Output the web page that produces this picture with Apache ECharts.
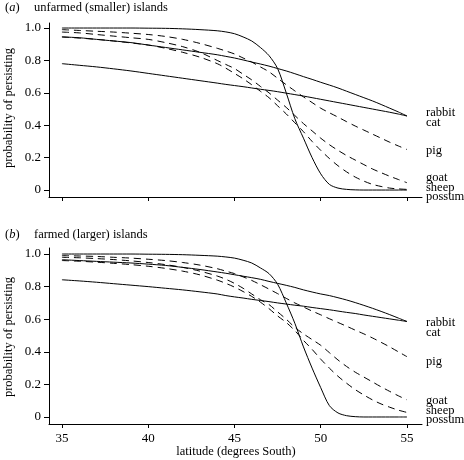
<!DOCTYPE html>
<html><head><meta charset="utf-8">
<script src="https://cdn.jsdelivr.net/npm/echarts@6/dist/echarts.min.js"></script>
<style>html,body{margin:0;padding:0;background:#fff}#c{width:464px;height:460px}</style>
</head><body><div id="c"></div>
<script>
// ---- data ----
const latitudes = [35,36,37,38,39,40,41,42,43,44,44.5,45,45.5,46,46.5,47,47.5,48,48.5,49,49.5,50,50.5,51,51.5,52,52.5,53,53.5,54,54.5,55];
const xTicks = [35,40,45,50,55];
const yTicks = [0,0.2,0.4,0.6,0.8,1.0];
const speciesNames = ['rabbit','cat','pig','goat','sheep','possum'];
const dashedSpecies = ['pig','goat','sheep'];

// (a) unfarmed (smaller) islands
const rabbitA = [.945,.94,.93,.92,.91,.895,.88,.865,.85,.835,.825,.815,.803,.79,.778,.765,.75,.735,.718,.70,.683,.665,.648,.63,.61,.59,.57,.55,.528,.505,.482,.457];
const catA    = [.78,.77,.76,.748,.735,.72,.705,.69,.675,.66,.652,.645,.638,.63,.622,.615,.607,.598,.589,.58,.57,.56,.55,.54,.53,.52,.51,.50,.49,.48,.469,.457];
const pigA    = [.99,.985,.98,.975,.968,.96,.948,.93,.905,.875,.858,.84,.815,.79,.76,.73,.69,.65,.612,.575,.54,.505,.477,.45,.422,.395,.37,.345,.32,.295,.272,.25];
const goatA   = [.975,.97,.96,.95,.94,.93,.91,.885,.85,.80,.775,.75,.715,.68,.64,.60,.555,.51,.46,.41,.365,.32,.28,.245,.213,.185,.157,.13,.107,.085,.065,.045];
const sheepA  = [.945,.938,.93,.92,.908,.895,.875,.85,.82,.78,.752,.72,.687,.65,.61,.57,.52,.47,.415,.36,.30,.245,.195,.15,.112,.08,.055,.035,.022,.012,.007,.004];
const possumA = [1,1,1,1,1,.999,.998,.995,.99,.983,.976,.965,.945,.92,.88,.83,.75,.60,.44,.32,.20,.10,.035,.012,.004,.001,0,0,0,0,0,0];

// (b) farmed (larger) islands
const rabbitB = [.965,.96,.955,.95,.945,.938,.93,.918,.905,.89,.882,.873,.864,.855,.845,.832,.82,.808,.795,.78,.767,.755,.745,.732,.718,.702,.685,.667,.648,.628,.607,.586];
const catB    = [.842,.835,.827,.818,.809,.80,.79,.78,.768,.755,.745,.737,.73,.722,.715,.708,.70,.693,.686,.68,.672,.665,.658,.65,.642,.635,.626,.618,.61,.602,.594,.586];
const pigB    = [.99,.988,.985,.98,.975,.968,.96,.948,.932,.91,.895,.88,.86,.838,.812,.785,.757,.728,.70,.675,.65,.627,.603,.58,.557,.533,.51,.485,.458,.43,.40,.37];
const goatB   = [.98,.977,.972,.966,.958,.948,.935,.918,.895,.865,.845,.82,.79,.755,.72,.69,.645,.60,.55,.51,.475,.44,.395,.35,.31,.275,.245,.215,.185,.157,.13,.105];
const sheepB  = [.96,.956,.95,.943,.935,.925,.912,.895,.872,.84,.82,.797,.77,.74,.705,.665,.62,.58,.53,.47,.415,.355,.30,.25,.207,.168,.135,.105,.08,.06,.042,.028];
const possumB = [1,1,1,1,1,.999,.998,.996,.992,.987,.982,.975,.962,.945,.915,.88,.815,.70,.575,.43,.30,.18,.07,.025,.008,.002,0,0,0,0,0,0];

const panelA = {rabbit:rabbitA, cat:catA, pig:pigA, goat:goatA, sheep:sheepA, possum:possumA};
const panelB = {rabbit:rabbitB, cat:catB, pig:pigB, goat:goatB, sheep:sheepB, possum:possumB};

// ---- chart ----
const FONT = 'Liberation Serif';
const chart = echarts.init(document.getElementById('c'), null, {renderer:'canvas'});

function xAxisDef(gi, showLabels){
  return {
    type:'value', gridIndex:gi, min:34.25, max:55.87,
    axisLine:{show:true, onZero:false, lineStyle:{color:'#000', width:1}},
    axisTick:{show:true, inside:false, length:4, customValues:xTicks, lineStyle:{color:'#000'}},
    axisLabel:{show:showLabels, customValues:xTicks, margin:8, color:'#000', fontFamily:FONT, fontSize:13},
    splitLine:{show:false}
  };
}
function yAxisDef(gi, mn, mx){
  return {
    type:'value', gridIndex:gi, min:mn, max:mx,
    axisLine:{show:true, onZero:false, lineStyle:{color:'#000', width:1}},
    axisTick:{show:true, length:5, customValues:yTicks, lineStyle:{color:'#000'}},
    axisLabel:{show:true, customValues:yTicks, margin:8, color:'#000', fontFamily:FONT, fontSize:13,
      formatter:v => (Math.abs(v) < 1e-9 ? '0' : v.toFixed(1))},
    splitLine:{show:false}
  };
}

const series = [];
[panelA, panelB].forEach((panel, gi) => {
  speciesNames.forEach(name => {
    const vals = panel[name];
    series.push({
      type:'line', name:name, xAxisIndex:gi, yAxisIndex:gi,
      data: latitudes.map((lat, i) => [lat, vals[i]]),
      showSymbol:false, smooth:0.3, silent:true,
      lineStyle:{color:'#000', width:1, type: dashedSpecies.includes(name) ? [7,5] : 'solid'}
    });
  });
});

const labelYA = {rabbit:113, cat:122.5, pig:150.5, goat:177.5, sheep:187.5, possum:197};
const labelYB = {rabbit:323, cat:332.5, pig:361.5, goat:400.5, sheep:410.5, possum:420};
const graphic = [];
speciesNames.forEach(n => {
  graphic.push({type:'text', x:426, y:labelYA[n], style:{text:n, fontFamily:FONT, fontSize:12.5, fill:'#000', textVerticalAlign:'middle'}});
  graphic.push({type:'text', x:426, y:labelYB[n], style:{text:n, fontFamily:FONT, fontSize:12.5, fill:'#000', textVerticalAlign:'middle'}});
});
function panelTitle(letter, text, y){
  graphic.push({type:'text', x:5, y:y, style:{
    text:'({i|' + letter + '})', fontFamily:FONT, fontSize:12.5, fill:'#000', textVerticalAlign:'middle',
    rich:{i:{fontStyle:'italic', fontFamily:FONT, fontSize:12.5}}}});
  graphic.push({type:'text', x:34, y:y, style:{text:text, fontFamily:FONT, fontSize:12.5, fill:'#000', textVerticalAlign:'middle'}});
}
panelTitle('a', 'unfarmed (smaller) islands', 8);
panelTitle('b', 'farmed (larger) islands', 235);
graphic.push({type:'text', x:9, y:108, rotation:Math.PI/2, style:{text:'probability of persisting', fontFamily:FONT, fontSize:12.5, fill:'#000', textAlign:'center', textVerticalAlign:'middle'}});
graphic.push({type:'text', x:9, y:337, rotation:Math.PI/2, style:{text:'probability of persisting', fontFamily:FONT, fontSize:12.5, fill:'#000', textAlign:'center', textVerticalAlign:'middle'}});
graphic.push({type:'text', x:236, y:452, style:{text:'latitude (degrees South)', fontFamily:FONT, fontSize:12.5, fill:'#000', textAlign:'center', textVerticalAlign:'middle'}});

chart.setOption({
  animation:false,
  backgroundColor:'#fff',
  grid:[
    {left:49, right:42, top:23, height:174, containLabel:false},
    {left:49, right:42, top:248, height:176, containLabel:false}
  ],
  xAxis:[xAxisDef(0,false), xAxisDef(1,true)],
  yAxis:[yAxisDef(0,-0.043,1.031), yAxisDef(1,-0.043,1.037)],
  series:series,
  graphic:graphic
});
</script>
</body></html>
